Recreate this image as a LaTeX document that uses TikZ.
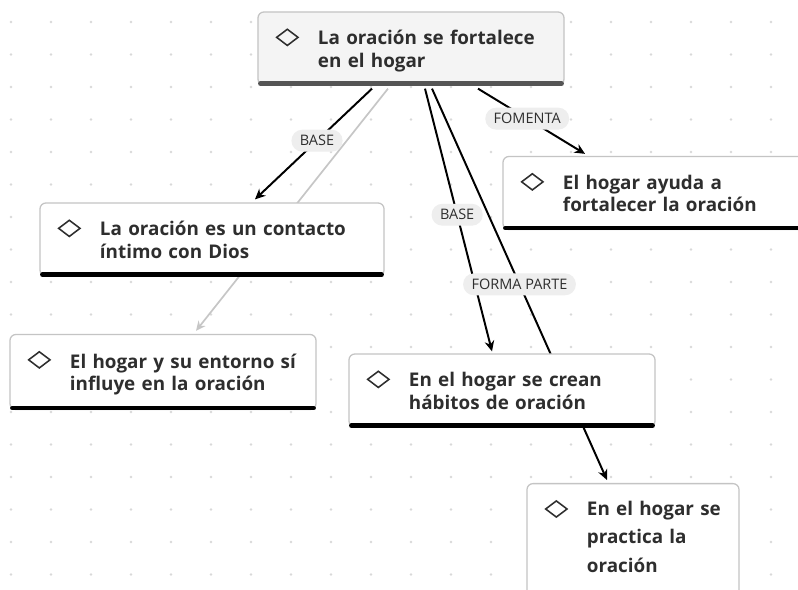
\documentclass[tikz,border=0pt]{standalone}
\usepackage{fontspec}
\setmainfont{Open Sans}
\usetikzlibrary{
    arrows.meta,
    positioning,
    shapes.geometric,
    backgrounds
}
\definecolor{ink}{HTML}{2E2E2E}
\definecolor{rim}{HTML}{C4C4C4}
\definecolor{dotc}{HTML}{D9D9D9}
\definecolor{pill}{HTML}{EEEEEE}
\definecolor{faintc}{HTML}{C6C6C6}
\definecolor{topfill}{HTML}{F4F4F4}
\definecolor{topbar}{HTML}{555555}
\pgfdeclarelayer{grid}
\pgfsetlayers{grid,background,main}
\tikzset{
    idea/.style={draw=rim, line width=0.9pt, fill=white, rounded corners=0.15cm,
        align=left, inner xsep=0.5cm, inner ysep=0.25cm, minimum height=1.825cm,
        text=ink, font=\fontsize{13.4}{15.8}\selectfont\bfseries},
    topic/.style={idea, fill=topfill},
    gem/.style={diamond, draw=ink, line width=1.1pt, minimum width=0.55cm,
        minimum height=0.42cm, inner sep=0pt},
    link/.style={-{Stealth[length=2.6mm, width=2.4mm]}, line width=1.4pt, black},
    faint/.style={-{Stealth[length=2.4mm, width=2.2mm]}, line width=1.2pt, faintc},
    tag/.style={fill=pill, rounded corners=0.27cm, inner xsep=6pt, inner ysep=4pt,
        text=ink, font=\fontsize{10.3}{12}\selectfont},
    bar/.style={line width=3.2pt, line cap=round, black}
}
\newcommand{\ideatext}[1]{\hspace*{1cm}\begin{tabular}[t]{@{}l@{}}\rule{0pt}{15.4pt}#1\end{tabular}}

\begin{document}
\begin{tikzpicture}[x=0.025cm, y=-0.025cm]
    \useasboundingbox (0,0) rectangle (798,590);
    \clip (0,0) rectangle (798,590);
    % dotted canvas
    \begin{pgfonlayer}{grid}
        \fill[white] (0,0) rectangle (798,590);
        \foreach \i in {0,...,19}{
            \foreach \j in {0,...,17}{
                \fill[dotc] (11+40*\i, 22+32.5*\j) circle (0.035cm);
            }
        }
    \end{pgfonlayer}
    % ideas
    \node[topic, text width=6.65cm] (top) at (411,48.5)
        {\ideatext{La oración se fortalece\\en el hogar}};
    \node[idea, text width=7.6cm] (contacto) at (212,239.5)
        {\ideatext{La oración es un contacto\\íntimo con Dios}};
    \node[idea, text width=6.65cm, minimum height=1.875cm] (entorno) at (163,372)
        {\ideatext{El hogar y su entorno sí\\influye en la oración}};
    \node[idea, text width=6.65cm] (habitos) at (502,390.5)
        {\ideatext{En el hogar se crean\\hábitos de oración}};
    \node[idea, text width=6.65cm] (ayuda) at (656,193)
        {\ideatext{El hogar ayuda a\\fortalecer la oración}};
    \node[idea, text width=4.3cm, anchor=north, font=\fontsize{13.4}{20.2}\selectfont\bfseries]
        (practica) at (633,483)
        {\ideatext{En el hogar se\\practica la\\oración\\[0.6cm]}};
    \foreach \n in {top,contacto,entorno,habitos,ayuda,practica}{
        \node[gem] (\n-gem) at ([shift={(30,26)}]\n.north west) {};
    }
    \draw[bar, topbar] ([shift={(3,-2)}]top.south west) -- ([shift={(-3,-2)}]top.south east);
    \foreach \n in {contacto,entorno,habitos,ayuda}{
        \draw[bar] ([shift={(3,-2)}]\n.south west) -- ([shift={(-3,-2)}]\n.south east);
    }
    % links
    \begin{pgfonlayer}{background}
        \draw[faint] ([shift={(-23,3)}]top.south) -- ([shift={(33,-3)}]entorno.north);
        \draw[link] ([shift={(-39,3)}]top.south)
            -- node[tag, pos=0.47] (base-a) {BASE} ([shift={(43,-3)}]contacto.north);
        \draw[link] ([shift={(14,3)}]top.south)
            -- node[tag, pos=0.48] (base-b) {BASE} ([shift={(-10,-2)}]habitos.north);
        \draw[link] ([shift={(21,3)}]top.south)
            -- node[tag, pos=0.5] (forma) {FORMA PARTE} ([shift={(-26,-3)}]practica.north);
        \draw[link] ([shift={(67,3)}]top.south)
            -- node[tag, pos=0.46] (fomenta) {FOMENTA} ([shift={(-71,-2)}]ayuda.north);
    \end{pgfonlayer}
\end{tikzpicture}
\end{document}
